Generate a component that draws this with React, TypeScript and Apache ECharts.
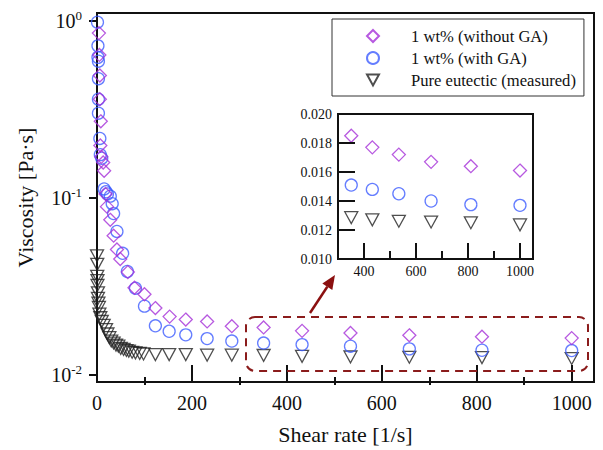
import React, { useEffect, useRef } from 'react';
import * as echarts from 'echarts';

const FONT = 'Liberation Serif';

const seriesNames = ['1 wt% (without GA)', '1 wt% (with GA)', 'Pure eutectic (measured)'];

const noGAx = [4, 5, 6, 6, 8, 7, 9, 13, 15, 18, 21, 28, 35, 42, 49, 65, 79, 100, 123, 153, 187, 232, 284, 351, 432, 534, 658, 811, 1000];
const noGAv = [0.85, 0.64, 0.49, 0.36, 0.27, 0.197, 0.17, 0.158, 0.142, 0.105, 0.089, 0.075, 0.061, 0.051, 0.045, 0.038, 0.031, 0.0285, 0.0238, 0.0213, 0.0205, 0.02, 0.0188, 0.0185, 0.0177, 0.0172, 0.0167, 0.0164, 0.0161];

const withGAx = [1, 2, 2, 3, 3, 3, 3, 6, 7, 10, 15, 19, 22, 28, 32, 35, 42, 54, 64, 81, 100, 123, 152, 187, 232, 284, 351, 432, 534, 658, 811, 1000];
const withGAv = [0.98, 0.72, 0.62, 0.59, 0.47, 0.36, 0.3, 0.216, 0.175, 0.167, 0.112, 0.108, 0.105, 0.102, 0.0925, 0.0813, 0.0645, 0.0485, 0.0383, 0.0308, 0.0244, 0.0189, 0.0176, 0.0168, 0.016, 0.0155, 0.0151, 0.0148, 0.0145, 0.014, 0.01375, 0.0137];

const pureX = [0, 0.5, 0.5, 1, 1, 2, 2, 3, 4, 5, 7, 10, 14, 19, 22, 26, 30, 35, 40, 45, 50, 56, 62, 67, 74, 81, 90, 98, 123, 152, 187, 232, 284, 351, 432, 534, 658, 811, 1000];
const pureV = [0.047, 0.042, 0.036, 0.034, 0.032, 0.029, 0.027, 0.0254, 0.024, 0.022, 0.021, 0.02, 0.019, 0.018, 0.017, 0.0162, 0.0155, 0.0151, 0.0147, 0.0145, 0.0141, 0.0139, 0.0137, 0.0136, 0.0134, 0.0133, 0.0132, 0.0131, 0.013, 0.013, 0.013, 0.0129, 0.0129, 0.01285, 0.0127, 0.0126, 0.01255, 0.0125, 0.01235];

const mainXTicks = [0, 200, 400, 600, 800, 1000];
const mainXMinor = [100, 300, 500, 700, 900];
const mainYTicks = [0.01, 0.1, 1];
const insetXTicks = [400, 600, 800, 1000];
const insetXMinor = [500, 700, 900];

const COLORS = ['#a52fd8', '#3d5cff', '#222222'];
const SYMBOLS = ['path://M6,0L12,6L6,12L0,6Z', 'circle', 'path://M0,0L12,0L6,11Z'];
const SIZES = [13, 12, 13];

const zip = (xs: number[], vs: number[]) => xs.map((x, i) => [x, vs[i]]);
const allData = [zip(noGAx, noGAv), zip(withGAx, withGAv), zip(pureX, pureV)];

export default function App() {
  const ref = useRef<HTMLDivElement>(null);
  useEffect(() => {
    const chart = echarts.init(ref.current!, undefined, { renderer: 'svg' });
    const axisLine = { show: true, lineStyle: { color: '#111', width: 2 } };
    const mainSeries = allData.map((d, i) => ({
      type: 'scatter',
      name: seriesNames[i],
      xAxisIndex: 0,
      yAxisIndex: 0,
      data: d,
      symbol: SYMBOLS[i],
      symbolSize: SIZES[i],
      symbolKeepAspect: true,
      itemStyle: { color: 'rgba(0,0,0,0)', borderColor: COLORS[i], borderWidth: 1.3 },
      z: 5 - i,
    }));
    const insetSeries = allData.map((d, i) => ({
      type: 'scatter',
      name: seriesNames[i],
      xAxisIndex: 2,
      yAxisIndex: 2,
      data: d.filter((p) => p[0] >= 300),
      symbol: SYMBOLS[i],
      symbolSize: SIZES[i],
      symbolKeepAspect: true,
      itemStyle: { color: 'rgba(0,0,0,0)', borderColor: COLORS[i], borderWidth: 1.3 },
      z: 5,
    }));
    const option: any = {
      animation: false,
      textStyle: { fontFamily: FONT },
      grid: [
        { left: 97, top: 13, width: 497, height: 372, show: true, borderColor: '#111', borderWidth: 2 },
        { left: 97, top: 13, width: 497, height: 372 },
        { left: 338, top: 114, width: 195, height: 145, show: true, borderColor: '#111', borderWidth: 2, backgroundColor: '#fff', z: 4 },
        { left: 338, top: 114, width: 195, height: 145 },
      ],
      xAxis: [
        {
          gridIndex: 0, type: 'value', min: 0, max: 1047,
          axisLine,
          axisTick: { show: true, inside: true, length: 17, lineStyle: { color: '#111', width: 2 }, customValues: mainXTicks },
          axisLabel: { customValues: mainXTicks, fontSize: 20, color: '#111', margin: 11, fontFamily: FONT, formatter: (v: number) => String(v) },
          splitLine: { show: false },
          name: 'Shear rate [1/s]', nameLocation: 'middle', nameGap: 41,
          nameTextStyle: { fontSize: 22, color: '#111', fontFamily: FONT },
        },
        {
          gridIndex: 1, type: 'value', min: 0, max: 1047,
          axisLine: { show: false },
          axisTick: { show: true, inside: true, length: 8, lineStyle: { color: '#111', width: 2 }, customValues: mainXMinor },
          axisLabel: { show: false },
          splitLine: { show: false },
        },
        {
          gridIndex: 2, type: 'value', min: 300, max: 1050,
          axisLine,
          axisTick: { show: true, inside: true, length: 16, lineStyle: { color: '#111', width: 2 }, customValues: insetXTicks },
          axisLabel: { customValues: insetXTicks, fontSize: 14, color: '#111', margin: 5, fontFamily: FONT, formatter: (v: number) => String(v) },
          splitLine: { show: false },
          z: 6,
        },
        {
          gridIndex: 3, type: 'value', min: 300, max: 1050,
          axisLine: { show: false },
          axisTick: { show: true, inside: true, length: 8, lineStyle: { color: '#111', width: 2 }, customValues: insetXMinor },
          axisLabel: { show: false },
          splitLine: { show: false },
          z: 6,
        },
      ],
      yAxis: [
        {
          gridIndex: 0, type: 'log', logBase: 10, min: 0.0091, max: 1.104,
          axisLine,
          axisTick: { show: true, inside: false, length: 8, lineStyle: { color: '#111', width: 2 }, customValues: mainYTicks },
          axisLabel: {
            customValues: mainYTicks,
            margin: 15,
            formatter: (v: number) => `{b|10}{s|${Math.round(Math.log10(v))}}`,
            rich: {
              b: { fontSize: 20, color: '#111', fontFamily: FONT, lineHeight: 24 },
              s: { fontSize: 13, color: '#111', fontFamily: FONT, verticalAlign: 'top', lineHeight: 14 },
            },
          },
          splitLine: { show: false },
          name: 'Viscosity [Pa·s]', nameLocation: 'middle', nameGap: 61,
          nameTextStyle: { fontSize: 22, color: '#111', fontFamily: FONT },
        },
        { gridIndex: 1, type: 'log', min: 0.0091, max: 1.104, show: false },
        {
          gridIndex: 2, type: 'value', min: 0.01, max: 0.02, interval: 0.002,
          axisLine,
          axisTick: { show: true, inside: true, length: 17, lineStyle: { color: '#111', width: 2 } },
          axisLabel: { fontSize: 14, color: '#111', margin: 6, fontFamily: FONT, formatter: (v: number) => v.toFixed(3) },
          splitLine: { show: false },
          z: 6,
        },
        { gridIndex: 3, type: 'value', min: 0.01, max: 0.02, show: false },
      ],
      legend: {
        left: 332, top: 19, orient: 'vertical',
        data: seriesNames,
        itemWidth: 12, itemHeight: 12, itemGap: 4,
        symbolKeepAspect: true,
        padding: [8, 8, 7, 34],
        borderColor: '#333', borderWidth: 1, backgroundColor: '#fff',
        selectedMode: false,
        textStyle: { fontSize: 16.6, color: '#111', fontFamily: FONT, lineHeight: 18, padding: [0, 0, 0, 27] },
        z: 10,
      },
      graphic: [
        {
          type: 'rect', shape: { x: 246, y: 317, width: 342, height: 54, r: 9 },
          style: { fill: 'none', stroke: '#8b1c1c', lineWidth: 2, lineDash: [8, 6] }, z: 20,
        },
        {
          type: 'line', shape: { x1: 310, y1: 313, x2: 327.3, y2: 286.7 },
          style: { stroke: '#8b1010', lineWidth: 2.5 }, z: 20,
        },
        {
          type: 'polygon', shape: { points: [[335, 275], [332.3, 290], [322.3, 283.4]] },
          style: { fill: '#8b1010' }, z: 20,
        },
      ],
      series: [...mainSeries, ...insetSeries],
    };
    chart.setOption(option);
    return () => chart.dispose();
  }, []);
  return <div ref={ref} style={{ width: 603, height: 450, position: 'absolute', left: 0, top: 0 }} />;
}
